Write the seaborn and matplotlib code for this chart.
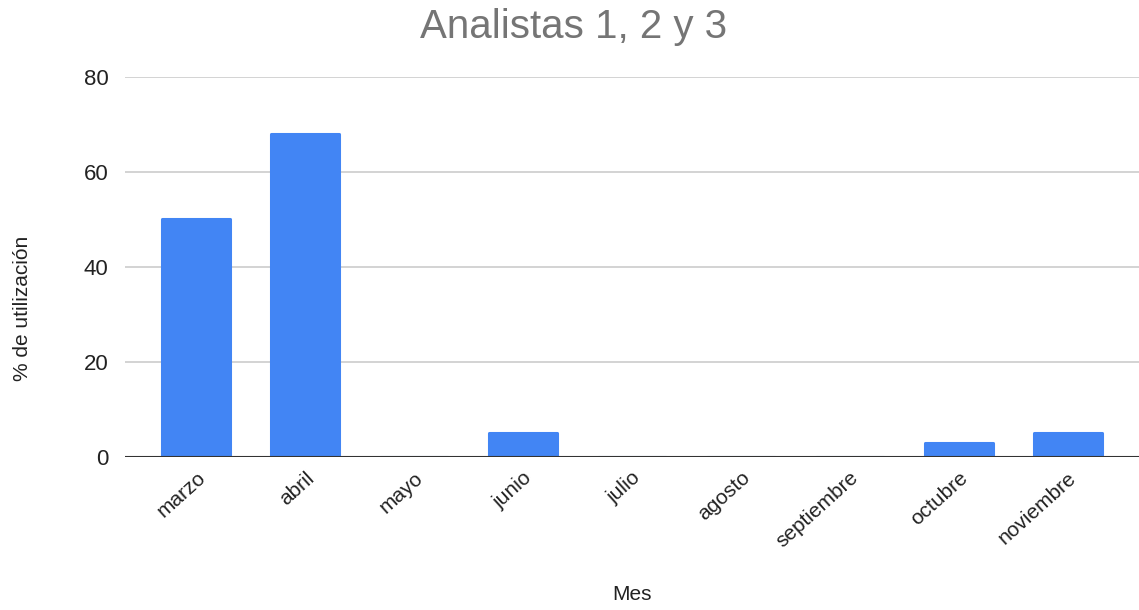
import matplotlib
matplotlib.use("Agg")
import matplotlib.pyplot as plt
import seaborn as sns
import pandas as pd

meses = ["marzo", "abril", "mayo", "junio", "julio", "agosto",
         "septiembre", "octubre", "noviembre"]
utilizacion = [50, 68, 0, 5, 0, 0, 0, 3, 5]
y_ticks = [0, 20, 40, 60, 80]

df = pd.DataFrame({"Mes": meses, "utilizacion": utilizacion})

sns.set_theme(style="white")
plt.rcParams["font.family"] = ["Liberation Sans", "DejaVu Sans"]

fig = plt.figure(figsize=(11.39, 6.10), dpi=100)
ax = fig.add_axes([0.1097, 0.2508, 0.8903, 0.6230])

sns.barplot(data=df, x="Mes", y="utilizacion", color="#4285F4",
            width=0.625, saturation=1, ax=ax, zorder=3,
            edgecolor="#4285F4", linewidth=2.2)
# soften the bar corners
for bar in ax.patches:
    bar.set_joinstyle("round")

ax.set_ylim(0, 80)
ax.set_yticks(y_ticks)
ax.set_xlim(-0.656, 8.656)
ax.yaxis.grid(True, color="#cccccc", linewidth=1.2, zorder=0)
ax.axhline(0, color="#333333", linewidth=1.5, zorder=4)
for s in ax.spines.values():
    s.set_visible(False)

ax.tick_params(axis="y", length=0, pad=12, labelsize=16, labelcolor="#222222")
ax.tick_params(axis="x", length=0, pad=8, labelsize=15, labelcolor="#222222")
plt.setp(ax.get_xticklabels(), rotation=42, ha="right", rotation_mode="anchor")

ax.set_xlabel("Mes", fontsize=15, color="#222222", va="center")
ax.xaxis.set_label_coords(0.5, -0.363)
ax.set_ylabel("% de utilización", fontsize=15, color="#222222", va="center")
ax.yaxis.set_label_coords(-0.1015, 0.39)
fig.text(0.504, 0.955, "Analistas 1, 2 y 3", ha="center", va="center",
         fontsize=29, color="#757575")

fig.savefig("out.png", dpi=100)
